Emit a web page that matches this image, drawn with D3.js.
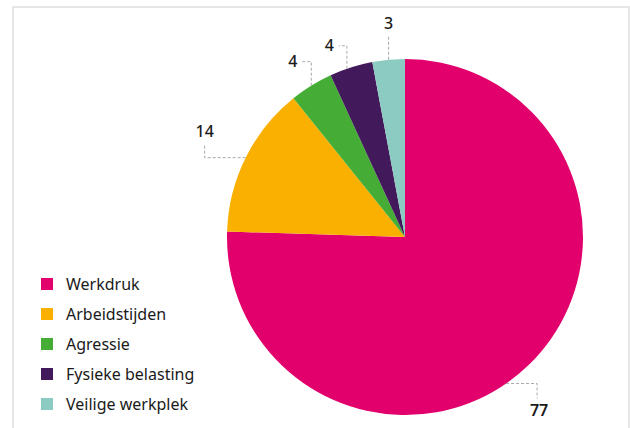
<!DOCTYPE html>
<html>
<head>
<meta charset="utf-8">
<script src="https://cdn.jsdelivr.net/npm/d3@7"></script>
<style>
  html, body { margin: 0; padding: 0; background: #fff; }
  svg { display: block; }
  text { font-family: "Noto Sans", "Open Sans", sans-serif; fill: #1a1a1a; }
</style>
</head>
<body>
<svg id="chart" width="630" height="428"></svg>
<script>
const categories = ["Werkdruk", "Arbeidstijden", "Agressie", "Fysieke belasting", "Veilige werkplek"];
const values = [77, 14, 4, 4, 3];
const colors = ["#e2006d", "#f9b000", "#45ad35", "#42195a", "#8bcbc1"];

const W = 630, H = 428;
const cx = 405, cy = 237, R = 178;

const svg = d3.select("#chart");

// frame
svg.append("path")
  .attr("d", `M13,${H + 2} V7 H629 V${H + 2}`)
  .attr("fill", "none")
  .attr("stroke", "#dedede")
  .attr("stroke-width", 1.5);

const data = categories.map((c, i) => ({ name: c, value: values[i], color: colors[i] }));

const pie = d3.pie().value(d => d.value).sort(null);
const arcs = pie(data);
const arc = d3.arc().innerRadius(0).outerRadius(R);

const g = svg.append("g").attr("transform", `translate(${cx},${cy})`);
g.selectAll("path.slice")
  .data(arcs)
  .join("path")
  .attr("class", "slice")
  .attr("d", arc)
  .attr("fill", d => d.data.color);

// label leader layout: where along the slice to anchor, and elbow shape
const labelLayout = [
  { frac: 0.535, first: "h", h: 31, v: 15, anchor: "middle", tdx: 2, tdy: 17 },  // Werkdruk
  { frac: 0.5, first: "h", h: -41, v: -14, anchor: "middle", tdx: 0, tdy: -7 },  // Arbeidstijden
  { frac: 0.5, first: "v", h: -10, v: -24, anchor: "end", tdx: -4, tdy: 5 },     // Agressie
  { frac: 0.4, first: "v", h: -8, v: -23, anchor: "end", tdx: -5, tdy: 5 },      // Fysieke belasting
  { frac: 0.5, first: "v", h: 0, v: -23, anchor: "middle", tdx: 0, tdy: -8 }     // Veilige werkplek
];

const labels = svg.append("g");
arcs.forEach((a, i) => {
  const L = labelLayout[i];
  const ang = a.startAngle + (a.endAngle - a.startAngle) * L.frac;
  const x0 = cx + R * Math.sin(ang);
  const y0 = cy - R * Math.cos(ang);
  let pts;
  if (L.first === "h") {
    pts = [[x0, y0], [x0 + L.h, y0], [x0 + L.h, y0 + L.v]];
  } else {
    pts = [[x0, y0], [x0, y0 + L.v], [x0 + L.h, y0 + L.v]];
  }
  labels.append("path")
    .attr("d", d3.line()(pts))
    .attr("fill", "none")
    .attr("stroke", "#a8a8a8")
    .attr("stroke-width", 1)
    .attr("stroke-dasharray", "3,2");
  const end = pts[2];
  labels.append("text")
    .attr("x", end[0] + L.tdx)
    .attr("y", end[1] + L.tdy)
    .attr("text-anchor", L.anchor)
    .attr("font-size", 16)
    .attr("font-weight", i === 0 ? 600 : 500)
    .text(a.data.value);
});

// legend
const legend = svg.append("g").attr("transform", "translate(41,278)");
const rows = legend.selectAll("g")
  .data(data)
  .join("g")
  .attr("transform", (d, i) => `translate(0,${i * 30})`);
rows.append("rect")
  .attr("width", 12).attr("height", 12)
  .attr("fill", d => d.color);
rows.append("text")
  .attr("x", 25).attr("y", 12)
  .attr("font-size", 16)
  .text(d => d.name);
</script>
</body>
</html>
